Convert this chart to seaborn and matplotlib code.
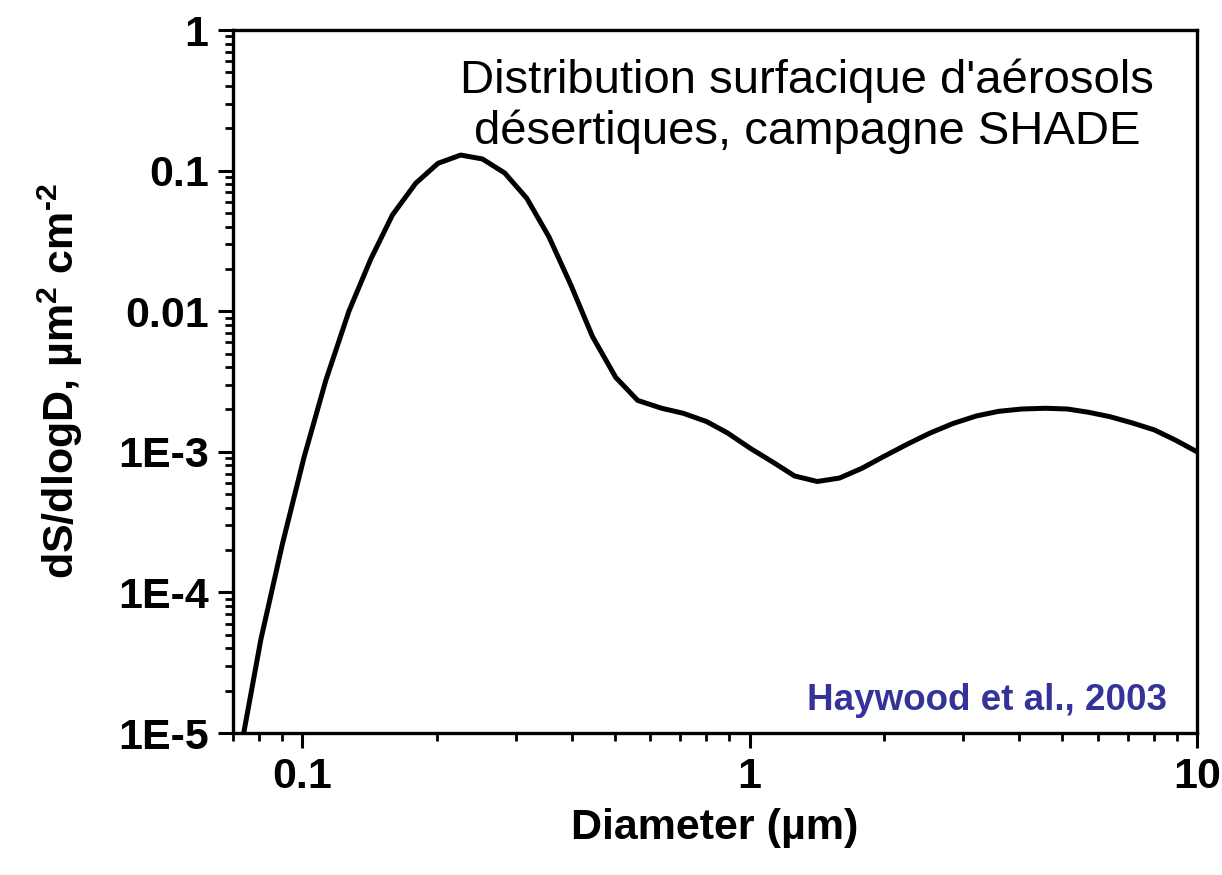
import numpy as np
import pandas as pd
import matplotlib
matplotlib.use("Agg")
import matplotlib.pyplot as plt
import seaborn as sns

diameter_um = [0.0738, 0.0808, 0.0903, 0.1009, 0.1129, 0.1272, 0.1422, 0.1590,
               0.1793, 0.2011, 0.2260, 0.2527, 0.2835, 0.3175, 0.3559, 0.3981,
               0.4451, 0.5020, 0.5620, 0.6358, 0.7102, 0.8015, 0.8930, 1.005,
               1.126, 1.260, 1.417, 1.589, 1.779, 2.003, 2.255, 2.532, 2.849,
               3.216, 3.601, 4.054, 4.587, 5.135, 5.722, 6.377, 7.139, 8.035,
               8.954, 10.0]
dS_dlogD = [9.6e-6, 4.63e-5, 2.22e-4, 9.14e-4, 3.23e-3, 1.005e-2, 2.34e-2, 4.83e-2,
            8.13e-2, 0.1127, 0.129, 0.121, 0.0961, 0.0636, 0.0338, 0.01546,
            6.62e-3, 3.38e-3, 2.32e-3, 2.04e-3, 1.88e-3, 1.64e-3, 1.36e-3, 1.055e-3,
            8.46e-4, 6.73e-4, 6.15e-4, 6.51e-4, 7.61e-4, 9.33e-4, 1.136e-3, 1.36e-3, 1.59e-3,
            1.80e-3, 1.94e-3, 2.015e-3, 2.04e-3, 2.015e-3, 1.91e-3, 1.78e-3, 1.61e-3, 1.43e-3,
            1.21e-3, 1.0e-3]

x_ticks = [0.1, 1, 10]
x_tick_labels = ["0.1", "1", "10"]
y_ticks = [1e-5, 1e-4, 1e-3, 1e-2, 1e-1, 1]
y_tick_labels = ["1E-5", "1E-4", "1E-3", "0.01", "0.1", "1"]

title_text = "Distribution surfacique d'aérosols\ndésertiques, campagne SHADE"
source_text = "Haywood et al., 2003"
x_label = "Diameter (µm)"
y_label = r"dS/dlogD, µm$^{2}$ cm$^{\text{-}2}$"

sns.set_style("ticks")
plt.rcParams["font.family"] = ["Liberation Sans", "DejaVu Sans"]
plt.rcParams["mathtext.fontset"] = "custom"
plt.rcParams["mathtext.rm"] = "Liberation Sans:bold"
plt.rcParams["mathtext.bf"] = "Liberation Sans:bold"
plt.rcParams["mathtext.it"] = "Liberation Sans:bold"
for k in ["text.color", "axes.labelcolor", "xtick.color", "ytick.color", "axes.edgecolor"]:
    plt.rcParams[k] = "black"

df = pd.DataFrame({"D": diameter_um, "S": dS_dlogD})

fig = plt.figure(figsize=(12.22, 8.75), dpi=100)
ax = fig.add_axes([233/1222, 1-733/875, (1197-233)/1222, (733-30)/875])

sns.lineplot(data=df, x="D", y="S", ax=ax, color="black", linewidth=3.6,
             estimator=None, sort=False)

ax.set_xscale("log")
ax.set_yscale("log")
ax.set_xlim(0.07, 10)
ax.set_ylim(1e-5, 1)

ax.set_xticks(x_ticks)
ax.set_xticklabels(x_tick_labels)
ax.set_yticks(y_ticks)
ax.set_yticklabels(y_tick_labels)
ax.xaxis.set_minor_locator(matplotlib.ticker.LogLocator(base=10, subs=np.arange(2, 10)))
ax.yaxis.set_minor_locator(matplotlib.ticker.LogLocator(base=10, subs=np.arange(2, 10), numticks=20))
ax.xaxis.set_minor_formatter(matplotlib.ticker.NullFormatter())
ax.yaxis.set_minor_formatter(matplotlib.ticker.NullFormatter())

ax.tick_params(which="major", direction="out", length=10.5, width=2.2,
               labelsize=31, pad=7, top=False, right=False, colors="black")
ax.tick_params(which="minor", direction="out", length=5.5, width=2.0,
               top=False, right=False, colors="black")
for lab in ax.get_xticklabels() + ax.get_yticklabels():
    lab.set_fontweight("bold")

for s in ax.spines.values():
    s.set_linewidth(2.4)
    s.set_color("black")
    s.set_visible(True)

ax.set_xlabel(x_label, fontsize=31, fontweight="bold", labelpad=8, color="black")
ax.set_ylabel(y_label, fontsize=31, fontweight="bold", labelpad=24, color="black")

ax.text((807-233)/(1197-233), 1-(106-30)/(733-30), title_text, transform=ax.transAxes,
        ha="center", va="center", fontsize=34, linespacing=1.2, color="black")
ax.text((1167-233)/(1197-233), 1-(700-30)/(733-30), source_text, transform=ax.transAxes,
        ha="right", va="center", fontsize=26.5, fontweight="bold", color="#333399")

fig.savefig("out.png", dpi=100, facecolor="white")
